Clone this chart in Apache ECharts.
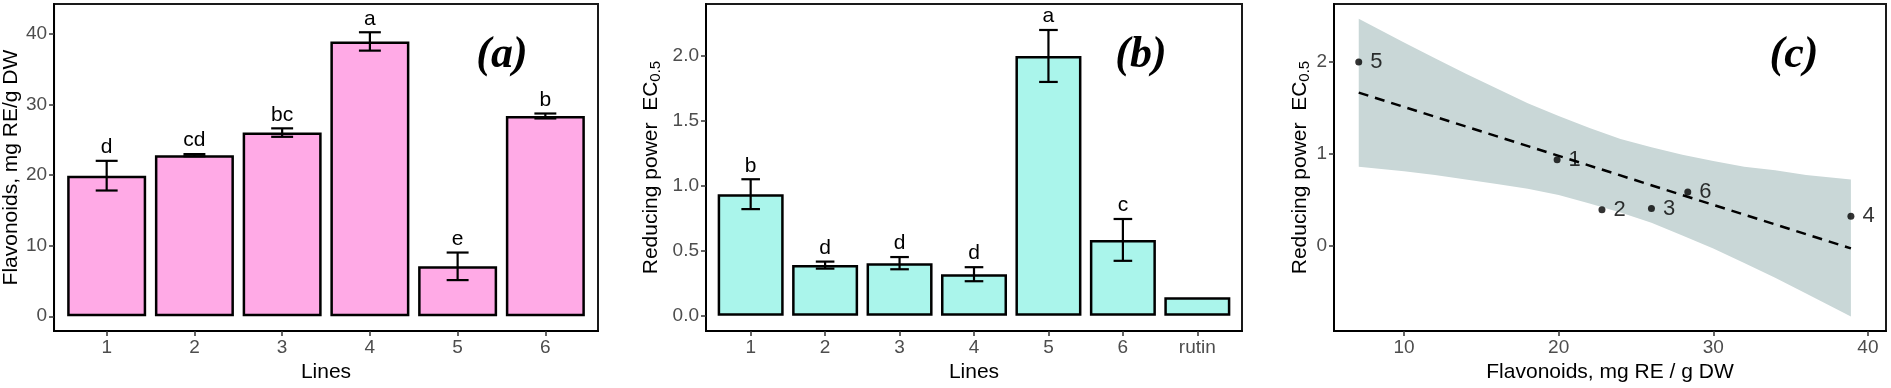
<!doctype html>
<html lang="en">
<head>
<meta charset="UTF-8">
<title>Flavonoids and reducing power</title>
<script src="https://cdn.jsdelivr.net/npm/echarts@6/dist/echarts.min.js"></script>
<style>
  html, body { margin: 0; padding: 0; background: #fff; }
  #main { width: 1891px; height: 388px; }
</style>
</head>
<body>
<div id="main"></div>
<script type="text/javascript">
// data
var lineNames = ['1', '2', '3', '4', '5', '6', 'rutin'];

// (a) flavonoids, mg RE/g DW
var flavA = [19.9, 22.8, 26.0, 38.9, 7.07, 28.35];
var flavErr = [2.1, 0.15, 0.6, 1.3, 1.95, 0.35];
var flavLetters = ['d', 'cd', 'bc', 'a', 'e', 'b'];
var flavTicks = [0, 10, 20, 30, 40];

// (b) reducing power EC0.5
var redB = [0.936, 0.39, 0.405, 0.32, 2.0, 0.584, 0.143];
var redErr = [0.115, 0.027, 0.047, 0.054, 0.2, 0.161, 0];
var redLetters = ['b', 'd', 'd', 'd', 'a', 'c', ''];
var redTicks = [0, 0.5, 1.0, 1.5, 2.0];

// (c) fit line and confidence band
var fitX = [7.07, 38.9];
var fitY = [1.666, -0.03];
var bandX = [7.07, 10, 12, 14, 16, 18, 20, 22, 24, 26, 28, 30, 32, 34, 36, 38.9];
var bandHi = [2.47, 2.21, 2.04, 1.87, 1.71, 1.55, 1.41, 1.28, 1.16, 1.07, 0.99, 0.92, 0.86, 0.82, 0.77, 0.72];
var bandLo = [0.86, 0.81, 0.77, 0.72, 0.67, 0.62, 0.55, 0.46, 0.36, 0.25, 0.11, -0.03, -0.19, -0.35, -0.52, -0.77];
var cXTicks = [10, 20, 30, 40];
var cYTicks = [0, 1, 2];

var myChart = echarts.init(document.getElementById('main'));

var tickLabel = { color: '#4d4d4d', fontSize: 19, margin: 7 };
var tickStyle = { length: 5, lineStyle: { color: '#333', width: 1.5 } };
var axLine = { show: true, onZero: false, lineStyle: { color: '#000', width: 2 } };
var nameStyle = { color: '#000', fontSize: 21 };

function errBars(letters) {
	return function (params, api) {
		var x = api.value(0), v = api.value(1), e = api.value(2);
		var kids = [];
		var hi = api.coord([x, v + e]);
		if (e > 0) {
			var lo = api.coord([x, v - e]);
			var cap = api.size([0.25, 0])[0] / 2;
			var st = { stroke: '#000', lineWidth: 2.2 };
			kids.push({ type: 'line', shape: { x1: lo[0], y1: lo[1], x2: hi[0], y2: hi[1] }, style: st });
			kids.push({ type: 'line', shape: { x1: hi[0] - cap, y1: hi[1], x2: hi[0] + cap, y2: hi[1] }, style: st });
			kids.push({ type: 'line', shape: { x1: lo[0] - cap, y1: lo[1], x2: lo[0] + cap, y2: lo[1] }, style: st });
		}
		if (letters[params.dataIndex]) {
			kids.push({ type: 'text', x: hi[0], y: hi[1] - 3, style: {
				text: letters[params.dataIndex], align: 'center', verticalAlign: 'bottom',
				fill: '#000', font: '21px "Liberation Sans"' } });
		}
		return { type: 'group', children: kids };
	};
}

function panelTag(txt, x) {
	return { type: 'text', x: x, y: 56, z: 10, style: {
		text: txt, align: 'center', verticalAlign: 'middle', fill: '#000',
		font: 'italic bold 44px "Liberation Serif"' } };
}

var option = {
	backgroundColor: '#fff',
	animation: false,
	textStyle: { fontFamily: 'Liberation Sans' },
	graphic: [panelTag('(a)', 502), panelTag('(b)', 1141), panelTag('(c)', 1794)],
	grid: [
		{ left: 52, top: 4, width: 546, height: 333, show: true, borderColor: '#1a1a1a', borderWidth: 2 },
		{ left: 706, top: 4, width: 536, height: 333, show: true, borderColor: '#1a1a1a', borderWidth: 2 },
		{ left: 1334, top: 4, width: 552, height: 333, show: true, borderColor: '#1a1a1a', borderWidth: 2 }
	],
	xAxis: [
		{ type: 'value', gridIndex: 0, min: 0.4, max: 6.6, splitLine: { show: false },
			axisLine: axLine, axisTick: Object.assign({ customValues: [1, 2, 3, 4, 5, 6] }, tickStyle),
			axisLabel: Object.assign({ customValues: [1, 2, 3, 4, 5, 6], formatter: function (v) { return lineNames[v - 1]; } }, tickLabel),
			name: 'Lines', nameLocation: 'middle', nameGap: 27, nameTextStyle: nameStyle },
		{ type: 'value', gridIndex: 1, min: 0.4, max: 7.6, splitLine: { show: false },
			axisLine: axLine, axisTick: Object.assign({ customValues: [1, 2, 3, 4, 5, 6, 7] }, tickStyle),
			axisLabel: Object.assign({ customValues: [1, 2, 3, 4, 5, 6, 7], formatter: function (v) { return lineNames[v - 1]; } }, tickLabel),
			name: 'Lines', nameLocation: 'middle', nameGap: 27, nameTextStyle: nameStyle },
		{ type: 'value', gridIndex: 2, min: 5.47, max: 41.17, splitLine: { show: false },
			axisLine: axLine, axisTick: Object.assign({ customValues: cXTicks }, tickStyle),
			axisLabel: Object.assign({ customValues: cXTicks }, tickLabel),
			name: 'Flavonoids, mg RE / g DW', nameLocation: 'middle', nameGap: 27, nameTextStyle: nameStyle }
	],
	yAxis: [
		{ type: 'value', gridIndex: 0, min: -2.1, max: 44.2, splitLine: { show: false },
			axisLine: axLine, axisTick: Object.assign({ customValues: flavTicks }, tickStyle),
			axisLabel: Object.assign({ customValues: flavTicks }, tickLabel),
			name: 'Flavonoids, mg RE/g DW', nameLocation: 'middle', nameRotate: 90, nameGap: 31, nameTextStyle: nameStyle },
		{ type: 'value', gridIndex: 1, min: -0.118, max: 2.4, splitLine: { show: false },
			axisLine: axLine, axisTick: Object.assign({ customValues: redTicks }, tickStyle),
			axisLabel: Object.assign({ customValues: redTicks, formatter: function (v) { return v.toFixed(1); } }, tickLabel),
			name: 'Reducing power  EC{s|0.5}', nameLocation: 'middle', nameRotate: 90, nameGap: 43,
			nameTextStyle: Object.assign({ rich: { s: { fontSize: 15, color: '#000', padding: [9, 0, 0, 0] } } }, nameStyle) },
		{ type: 'value', gridIndex: 2, min: -0.93, max: 2.63, splitLine: { show: false },
			axisLine: axLine, axisTick: Object.assign({ customValues: cYTicks }, tickStyle),
			axisLabel: Object.assign({ customValues: cYTicks }, tickLabel),
			name: 'Reducing power  EC{s|0.5}', nameLocation: 'middle', nameRotate: 90, nameGap: 22,
			nameTextStyle: Object.assign({ rich: { s: { fontSize: 15, color: '#000', padding: [9, 0, 0, 0] } } }, nameStyle) }
	],
	series: [
		{
			type: 'bar', xAxisIndex: 0, yAxisIndex: 0, barWidth: 79,
			itemStyle: { color: '#ffaae6', borderColor: '#000', borderWidth: 2.5 },
			data: flavA.map(function (v, i) { return [i + 1, v]; })
		},
		{
			type: 'custom', xAxisIndex: 0, yAxisIndex: 0, z: 4,
			renderItem: errBars(flavLetters),
			encode: { x: 0, y: 1 },
			data: flavA.map(function (v, i) { return [i + 1, v, flavErr[i]]; })
		},
		{
			type: 'bar', xAxisIndex: 1, yAxisIndex: 1, barWidth: 66,
			itemStyle: { color: '#aaf5eb', borderColor: '#000', borderWidth: 2.5 },
			data: redB.map(function (v, i) { return [i + 1, v]; })
		},
		{
			type: 'custom', xAxisIndex: 1, yAxisIndex: 1, z: 4,
			renderItem: errBars(redLetters),
			encode: { x: 0, y: 1 },
			data: redB.map(function (v, i) { return [i + 1, v, redErr[i]]; })
		},
		{
			type: 'custom', xAxisIndex: 2, yAxisIndex: 2, z: 1,
			renderItem: function (params, api) {
				if (params.dataIndex > 0) return;
				var pts = [], i;
				for (i = 0; i < bandX.length; i++) pts.push(api.coord([bandX[i], bandHi[i]]));
				for (i = bandX.length - 1; i >= 0; i--) pts.push(api.coord([bandX[i], bandLo[i]]));
				return { type: 'polygon', shape: { points: pts }, style: { fill: '#c9d7d7' } };
			},
			encode: { x: 0, y: 1 },
			data: bandX.map(function (x, i) { return [x, bandLo[i], bandHi[i]]; })
		},
		{
			type: 'line', xAxisIndex: 2, yAxisIndex: 2, z: 2, symbol: 'none',
			lineStyle: { color: '#000', width: 2.5, type: [10, 7] },
			data: fitX.map(function (x, i) { return [x, fitY[i]]; })
		},
		{
			type: 'scatter', xAxisIndex: 2, yAxisIndex: 2, z: 3, symbolSize: 7,
			itemStyle: { color: '#000' },
			label: { show: true, position: 'right', distance: 8, color: '#000', fontSize: 22,
				formatter: function (p) { return lineNames[p.dataIndex]; } },
			data: flavA.map(function (x, i) { return [x, redB[i]]; })
		}
	]
};

myChart.setOption(option);
</script>
</body>
</html>
